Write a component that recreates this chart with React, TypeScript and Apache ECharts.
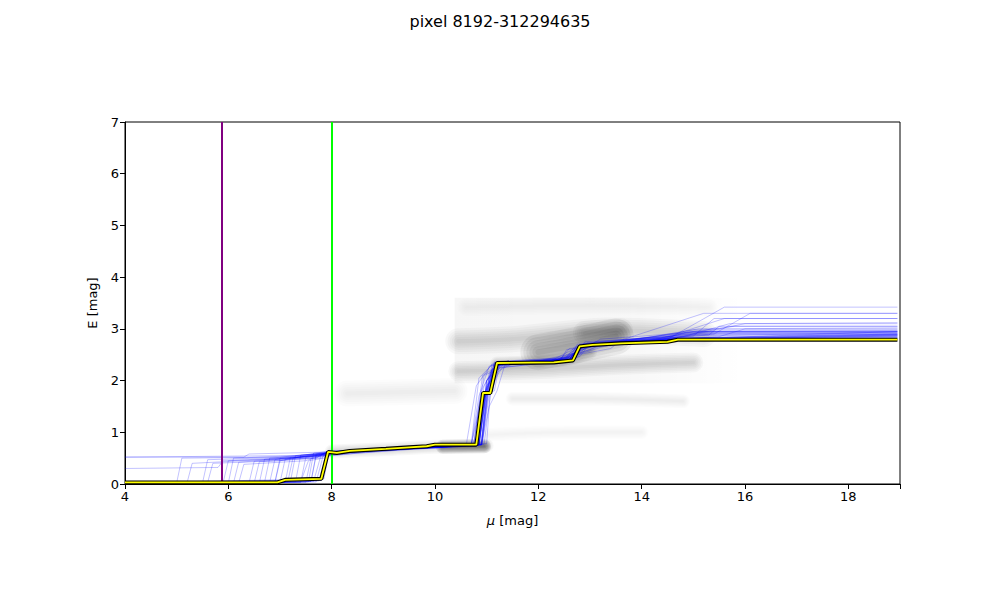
import React, { useEffect, useRef } from "react";
import * as echarts from "echarts";

const titleText = "pixel 8192-312294635";
const xTicks = [4, 6, 8, 10, 12, 14, 16, 18];
const xRange = [4, 19];
const yRange = [0, 7];

const purpleMu = 5.88;
const greenMu = 8.0;

const bestFit: number[][] = [
  [4, 0.03], [6.95, 0.03], [7.1, 0.08], [7.8, 0.1], [7.93, 0.62], [8.1, 0.6], [8.35, 0.64],
  [9.05, 0.68], [9.5, 0.71], [9.84, 0.73], [10.0, 0.76], [10.8, 0.76], [10.93, 1.76],
  [11.07, 1.76], [11.2, 2.34], [12.3, 2.35], [12.67, 2.39], [12.8, 2.66], [13.05, 2.69],
  [13.6, 2.72], [14.5, 2.75], [14.7, 2.79], [18.95, 2.79],
];

const blueSamples: number[][][] = [
  [[4,0.02],[6.9,0.02],[7.0,0.45],[7.9,0.55],[8.3,0.62],[9.5,0.68],[10.8,0.74],[10.95,1.75],[11.1,1.78],[11.25,2.3],[12.4,2.38],[12.6,2.62],[13.5,2.7],[14.8,2.85],[15.2,2.92],[18.95,2.92]],
  [[4,0.02],[7.5,0.03],[7.6,0.5],[8.5,0.6],[10,0.72],[10.85,0.76],[11.0,2.0],[11.2,2.28],[12.5,2.4],[12.9,2.68],[14.2,2.78],[15,2.95],[18.95,2.95]],
  [[4,0.52],[6.3,0.52],[6.4,0.58],[8.0,0.62],[9.8,0.7],[10.7,0.75],[10.9,1.6],[11.3,2.25],[12.2,2.35],[13.2,2.72],[14.5,2.8],[15.6,3.42],[18.95,3.42]],
  [[4,0.02],[5.6,0.03],[5.7,0.4],[7,0.45],[7.8,0.6],[9,0.65],[10.6,0.73],[10.8,1.9],[11.1,2.32],[12.0,2.38],[12.8,2.55],[13.1,2.75],[14.9,2.88],[18.95,2.88]],
  [[4,0.02],[7.7,0.04],[7.85,0.6],[9.2,0.66],[10.9,0.75],[11.05,1.72],[11.15,2.36],[12.7,2.42],[12.85,2.68],[15.5,2.85],[16.0,3.0],[18.95,3.0]],
  [[4,0.02],[6.6,0.02],[6.7,0.48],[7.7,0.5],[7.9,0.62],[10.2,0.72],[10.75,0.78],[10.95,2.1],[11.4,2.3],[12.5,2.45],[13.4,2.62],[13.6,2.78],[15.2,3.3],[18.95,3.3]],
  [[4,0.02],[7.2,0.04],[7.3,0.55],[8.6,0.63],[10.5,0.74],[11.0,0.78],[11.1,2.2],[11.3,2.35],[12.6,2.4],[12.75,2.7],[14,2.76],[14.8,2.9],[18.95,2.9]],
  [[4,0.02],[6.1,0.02],[6.2,0.42],[7.2,0.5],[7.95,0.58],[9.6,0.7],[10.9,0.77],[11.05,1.5],[11.2,1.8],[11.35,2.3],[12.3,2.38],[13.0,2.6],[13.3,2.74],[15.0,2.86],[15.4,3.2],[18.95,3.2]],
  [[4,0.02],[7.8,0.08],[7.95,0.62],[9.1,0.68],[10.8,0.76],[10.95,1.78],[11.1,1.8],[11.22,2.34],[12.65,2.4],[12.8,2.66],[14.6,2.8],[18.95,2.82]],
  [[4,0.02],[7.4,0.03],[7.5,0.52],[8.4,0.6],[10.3,0.72],[10.7,0.76],[10.85,2.05],[11.1,2.3],[12.2,2.36],[12.9,2.72],[14.2,2.84],[15.1,3.0],[18.95,3.02]],
  [[4,0.02],[6.9,0.03],[7.0,0.5],[7.9,0.56],[8.1,0.64],[9.9,0.72],[10.85,0.75],[11.0,1.9],[11.25,2.2],[11.5,2.33],[12.5,2.42],[13.2,2.64],[13.8,2.8],[15.3,2.95],[18.95,2.95]],
  [[4,0.02],[5.2,0.02],[5.3,0.4],[6.5,0.46],[7.9,0.55],[9.4,0.66],[10.8,0.74],[10.95,1.65],[11.2,2.25],[12.4,2.36],[12.55,2.6],[13.9,2.72],[14.7,2.84],[16.0,3.1],[18.95,3.1]],
  [[4,0.02],[7.6,0.05],[7.7,0.58],[9.0,0.66],[10.6,0.74],[10.9,0.8],[11.05,2.15],[11.3,2.34],[12.7,2.44],[12.9,2.7],[14.4,2.8],[14.9,2.95],[18.95,2.97]],
  [[4,0.02],[6.4,0.02],[6.5,0.44],[7.6,0.5],[7.9,0.6],[9.8,0.7],[10.75,0.76],[10.9,1.8],[11.15,2.3],[12.3,2.37],[12.7,2.58],[13.5,2.76],[15.8,3.05],[18.95,3.05]],
  [[4,0.02],[7.85,0.1],[7.95,0.63],[9.5,0.7],[10.9,0.76],[11.0,1.76],[11.1,1.78],[11.2,2.35],[12.7,2.4],[12.85,2.68],[14.7,2.8],[18.95,2.86]],
  [[4,0.02],[7.1,0.03],[7.2,0.52],[8.2,0.6],[10.1,0.73],[10.9,0.76],[11.0,2.0],[11.4,2.38],[12.8,2.46],[13.0,2.72],[14.5,2.85],[15.6,3.2],[18.95,3.2]],
  [[4,0.3],[5.8,0.32],[5.9,0.45],[7.5,0.52],[8.0,0.6],[9.3,0.67],[10.7,0.75],[10.85,1.7],[11.05,2.28],[12.5,2.38],[12.7,2.65],[14.9,2.9],[18.95,2.9]],
  [[4,0.02],[7.75,0.06],[7.9,0.61],[9.0,0.65],[10.85,0.76],[10.95,1.76],[11.12,1.8],[11.2,2.33],[12.6,2.39],[12.78,2.66],[14.65,2.79],[18.95,2.83]],
  [[4,0.02],[6.8,0.03],[6.9,0.47],[7.85,0.55],[8.4,0.62],[10.0,0.72],[10.8,0.77],[10.9,1.55],[11.1,2.22],[11.3,2.32],[12.4,2.4],[13.3,2.7],[15.0,2.98],[18.95,2.98]],
  [[4,0.02],[7.3,0.04],[7.4,0.56],[8.7,0.64],[10.4,0.73],[10.95,0.77],[11.1,1.95],[11.25,2.36],[12.7,2.45],[12.9,2.75],[15.4,2.9],[16.1,3.3],[18.95,3.3]],
  [[4,0.02],[7.8,0.07],[7.92,0.6],[9.4,0.68],[10.82,0.75],[10.98,1.78],[11.18,2.34],[12.55,2.4],[12.75,2.67],[14.6,2.8],[18.95,2.88]],
  [[4,0.02],[6.0,0.02],[6.1,0.5],[7.4,0.55],[7.9,0.63],[9.7,0.7],[10.75,0.76],[10.92,2.1],[11.35,2.36],[12.4,2.4],[12.9,2.62],[13.2,2.8],[15.2,2.95],[18.95,2.95]],
  [[4,0.02],[7.55,0.04],[7.65,0.6],[9.2,0.67],[10.9,0.76],[11.1,2.3],[12.75,2.44],[12.95,2.7],[14.3,2.82],[15.1,2.92],[18.95,2.92]],
  [[4,0.02],[7.0,0.03],[7.1,0.48],[7.9,0.58],[8.5,0.63],[10.2,0.73],[10.85,0.76],[11.0,1.85],[11.2,2.3],[12.6,2.4],[12.8,2.7],[14.8,2.85],[15.7,3.1],[18.95,3.12]],
  [[4,0.52],[7.3,0.55],[7.9,0.6],[9.6,0.7],[10.8,0.76],[10.95,1.7],[11.15,2.35],[12.6,2.4],[12.8,2.68],[14.7,2.82],[18.95,2.85]],
  [[4,0.02],[7.82,0.08],[7.94,0.62],[9.3,0.68],[10.88,0.76],[11.02,1.77],[11.15,1.8],[11.25,2.34],[12.68,2.41],[12.82,2.67],[14.7,2.8],[18.95,2.84]],
  [[4,0.02],[6.7,0.03],[6.8,0.5],[7.8,0.58],[8.2,0.63],[10.3,0.74],[10.92,0.77],[11.05,2.05],[11.3,2.32],[12.5,2.42],[12.7,2.6],[13.7,2.78],[14.9,2.93],[18.95,2.93]],
  [[4,0.02],[7.65,0.05],[7.8,0.58],[9.0,0.65],[10.7,0.75],[10.87,1.62],[11.05,1.75],[11.22,2.3],[12.5,2.38],[12.95,2.73],[15.3,2.88],[15.5,3.05],[18.95,3.05]],
  [[4,0.02],[5.0,0.02],[5.1,0.5],[7.0,0.52],[7.9,0.6],[9.5,0.69],[10.85,0.76],[11.0,1.8],[11.2,2.32],[12.6,2.41],[12.8,2.66],[14.7,2.8],[18.95,2.87]],
  [[4,0.02],[6.2,0.02],[6.3,0.38],[7.5,0.45],[7.95,0.6],[9.4,0.68],[10.85,0.75],[10.98,1.74],[11.2,2.35],[12.6,2.4],[12.8,2.7],[14.6,2.82],[18.95,2.9]],
  [[4,0.02],[7.4,0.04],[7.55,0.45],[7.85,0.5],[8.0,0.62],[9.6,0.69],[10.9,0.76],[11.02,1.8],[11.18,2.34],[12.6,2.4],[12.8,2.68],[14.7,2.8],[18.95,2.86]],
  [[4,0.02],[5.9,0.03],[6.0,0.45],[6.9,0.48],[7.9,0.58],[9.0,0.66],[10.8,0.75],[10.95,1.9],[11.2,2.33],[12.65,2.4],[12.85,2.7],[15.0,2.86],[18.95,2.94]],
  [[4,0.02],[7.15,0.04],[7.25,0.5],[7.9,0.6],[9.2,0.67],[10.85,0.76],[11.0,1.77],[11.15,2.33],[12.6,2.4],[12.8,2.67],[14.7,2.81],[18.95,2.89]],
  [[4,0.02],[6.5,0.02],[6.6,0.43],[7.8,0.5],[7.95,0.62],[9.5,0.69],[10.85,0.76],[11.0,2.0],[11.25,2.34],[12.65,2.42],[12.85,2.69],[14.8,2.83],[18.95,2.9]],
  [[4,0.02],[7.6,0.05],[7.7,0.55],[8.0,0.6],[9.3,0.68],[10.9,0.77],[11.05,1.85],[11.2,2.34],[12.7,2.42],[12.9,2.7],[14.7,2.82],[18.95,2.88]],
  [[4,0.02],[5.5,0.02],[5.6,0.47],[7.6,0.53],[7.92,0.61],[9.6,0.7],[10.85,0.76],[10.97,1.76],[11.2,2.35],[12.6,2.4],[12.8,2.68],[14.7,2.8],[18.95,2.95]],
];

// grey density background (approximate ridges of the density map)
const densityRegion = [[10.38, 1.95], [16.0, 3.6]];
const densityLeftBand = [[8.3, 1.75], [10.38, 1.8]];
const densityLowStep = [[8.0, 0.63], [9.0, 0.67], [10.0, 0.72], [11.0, 0.74]];
const densityLowBlob = [[10.15, 0.72], [10.95, 0.73]];
const densityUpper = [[10.45, 2.76], [11.5, 2.8], [12.5, 2.9], [13.3, 2.97], [14.2, 2.95], [15.2, 2.9]];
const densityTop = [[10.6, 3.42], [13, 3.45], [15.3, 3.42]];
const densityLower = [[10.45, 2.18], [12, 2.22], [13.5, 2.3], [15, 2.35]];
const densityTrack = [[11.2, 2.33], [12.5, 2.4], [13.0, 2.55]];
const densityBlob = [[12.0, 2.55], [12.8, 2.7], [13.5, 2.85]];
const densityBlob2 = [[12.9, 2.92], [13.6, 2.98]];
const densityMid = [[11.5, 1.65], [13, 1.65], [14.8, 1.6]];
const densityFaint = [[11.0, 0.95], [12.5, 1.0], [14.0, 1.0]];

export default function App() {
  const ref = useRef<HTMLDivElement>(null);
  useEffect(() => {
    if (!ref.current) return;
    const chart = echarts.init(ref.current, null, { renderer: "svg" });
    const layers = 6;
    const band = (data: number[][], alpha: number, width: number) => {
      const out: any[] = [];
      for (let k = 1; k <= layers; k++) {
        out.push({
          type: "line",
          data,
          symbol: "none",
          silent: true,
          smooth: 0.3,
          z: 1,
          lineStyle: {
            color: `rgba(0,0,0,${alpha / layers})`,
            width: (width * k) / layers,
            cap: "round",
            join: "round",
          },
        });
      }
      return out;
    };
    const series: any[] = [
      {
        type: "line",
        data: [],
        markArea: {
          silent: true,
          itemStyle: {
            color: new echarts.graphic.LinearGradient(0, 0, 1, 0, [
              { offset: 0, color: "rgba(0,0,0,0.035)" },
              { offset: 0.6, color: "rgba(0,0,0,0.03)" },
              { offset: 1, color: "rgba(0,0,0,0)" },
            ]),
          },
          data: [[{ coord: densityRegion[0] }, { coord: densityRegion[1] }]],
        },
      },
      ...band(densityLeftBand, 0.06, 26),
      ...band(densityLowStep, 0.16, 14),
      ...band(densityLowBlob, 0.55, 14),
      ...band(densityUpper, 0.16, 26),
      ...band(densityTop, 0.05, 18),
      ...band(densityLower, 0.16, 20),
      ...band(densityTrack, 0.2, 14),
      ...band(densityBlob, 0.35, 36),
      ...band(densityBlob2, 0.18, 24),
      ...band(densityMid, 0.06, 14),
      ...band(densityFaint, 0.05, 14),
    ];
    blueSamples.forEach((s) => {
      series.push({
        type: "line",
        data: s,
        symbol: "none",
        silent: true,
        z: 3,
        lineStyle: { color: "rgba(0,0,255,0.24)", width: 1 },
      });
    });
    series.push({
      type: "line",
      data: bestFit,
      symbol: "none",
      z: 5,
      lineStyle: { color: "#000000", width: 4 },
    });
    series.push({
      type: "line",
      data: bestFit,
      symbol: "none",
      z: 6,
      lineStyle: { color: "#ffff00", width: 1.8 },
      markLine: {
        silent: true,
        symbol: "none",
        label: { show: false },
        data: [
          { xAxis: purpleMu, lineStyle: { color: "#800080", width: 2, type: "solid" } },
          { xAxis: greenMu, lineStyle: { color: "#00ff00", width: 2, type: "solid" } },
        ],
      },
    });
    chart.setOption({
      animation: false,
      backgroundColor: "#ffffff",
      title: {
        text: titleText,
        left: "center",
        top: 8,
        textStyle: { fontFamily: "DejaVu Sans", fontSize: 16, fontWeight: "normal", color: "#000" },
      },
      grid: {
        left: 125,
        top: 122,
        width: 775,
        height: 362,
        show: true,
        borderColor: "#000",
        borderWidth: 1,
        backgroundColor: "transparent",
      },
      xAxis: {
        type: "value",
        min: xRange[0],
        max: xRange[1],
        interval: 2,
        name: "{i|μ} [mag]",
        nameLocation: "middle",
        nameGap: 30,
        nameTextStyle: {
          fontFamily: "DejaVu Sans",
          fontSize: 13,
          color: "#000",
          rich: { i: { fontFamily: "DejaVu Sans", fontSize: 13, fontStyle: "italic", color: "#000" } },
        },
        axisLine: { show: true, onZero: false, lineStyle: { color: "#000" } },
        axisTick: { show: true, length: 5, lineStyle: { color: "#000" } },
        axisLabel: {
          fontFamily: "DejaVu Sans",
          fontSize: 13,
          color: "#000",
          margin: 6,
          formatter: (v: number) => (xTicks.includes(v) ? String(v) : ""),
        },
        splitLine: { show: false },
      },
      yAxis: {
        type: "value",
        min: yRange[0],
        max: yRange[1],
        interval: 1,
        name: "E [mag]",
        nameLocation: "middle",
        nameGap: 26,
        nameTextStyle: { fontFamily: "DejaVu Sans", fontSize: 13, color: "#000" },
        axisLine: { show: true, onZero: false, lineStyle: { color: "#000" } },
        axisTick: { show: true, length: 5, lineStyle: { color: "#000" } },
        axisLabel: { fontFamily: "DejaVu Sans", fontSize: 13, color: "#000", margin: 6 },
        splitLine: { show: false },
      },
      series,
    });
    return () => chart.dispose();
  }, []);
  return (
    <div
      ref={ref}
      style={{ position: "absolute", left: 0, top: 0, width: 1000, height: 600 }}
    />
  );
}
